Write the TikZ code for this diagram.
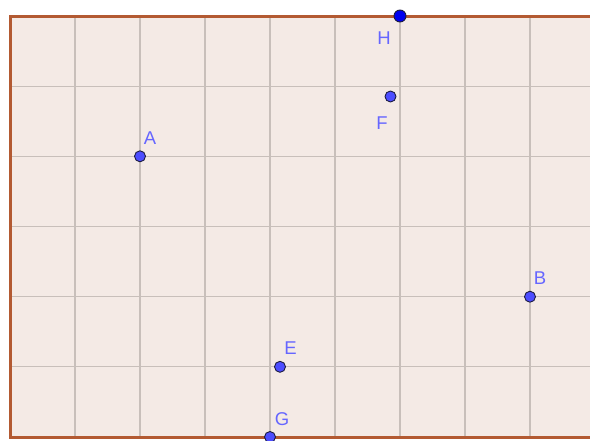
\documentclass[tikz,border=0pt]{standalone}
\usepackage{fontspec}
\setmainfont{Liberation Sans}
\definecolor{paper}{HTML}{F4EAE5}
\definecolor{gridc}{HTML}{C8BFBA}
\definecolor{frame}{HTML}{B35A32}
\definecolor{ptfill}{HTML}{4D4DFF}
\definecolor{ptdark}{HTML}{0000EE}
\definecolor{ptline}{HTML}{1C1C40}
\definecolor{lab}{HTML}{6666FF}
\tikzset{
  pt/.style={circle,fill=ptfill,draw=ptline,line width=0.9pt,inner sep=0pt,minimum size=11pt},
  ptH/.style={pt,fill=ptdark,minimum size=12pt},
  lbl/.style={text=lab,font=\fontsize{18.5}{18.5}\selectfont,inner sep=0pt,anchor=center},
  gridline/.style={draw=gridc,line width=1.1pt},
  border/.style={draw=frame,line width=3pt}
}
\begin{document}
\begin{tikzpicture}[x=1pt,y=-1pt]
\useasboundingbox (0,0) rectangle (590,440);
\begin{scope}
\clip (0,0) rectangle (590,440);
\fill[paper] (10,16) rectangle (610,437);
\foreach \i in {1,...,9} {
  \draw[gridline] ({10+65*\i},16) -- ({10+65*\i},437);
}
\foreach \j in {1,...,5} {
  \draw[gridline] (10,{16+70.17*\j}) -- (610,{16+70.17*\j});
}
\draw[border] (610,16) -- (10,16) -- (10,437) -- (610,437);
\end{scope}
\node[pt] (A) at (140,156.3) {};
\node[pt] (B) at (530,296.7) {};
\node[pt] (E) at (280,366.8) {};
\node[pt] (F) at (390.5,96.5) {};
\node[pt] (G) at (270,437) {};
\node[ptH] (H) at (400,16) {};
\node[lbl] (lA) at (150,138) {A};
\node[lbl] (lB) at (540,278) {B};
\node[lbl] (lE) at (290.5,348) {E};
\node[lbl] (lF) at (382,123) {F};
\node[lbl] (lG) at (282,419) {G};
\node[lbl] (lH) at (384,38) {H};
\end{tikzpicture}
\end{document}
